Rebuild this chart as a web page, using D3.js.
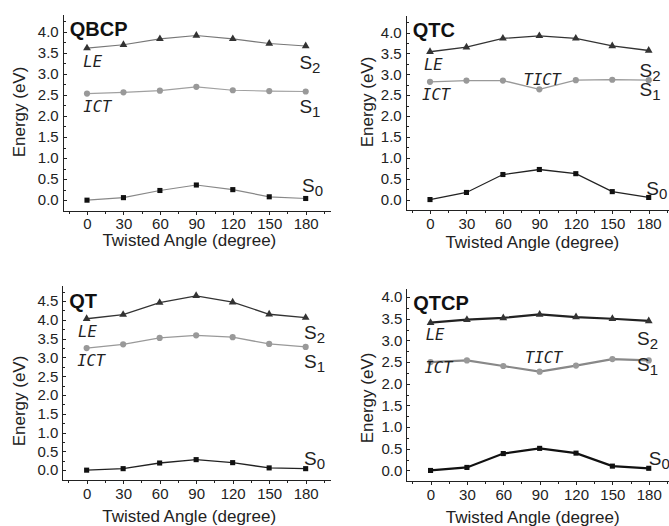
<!DOCTYPE html>
<head>
<meta charset="utf-8">
<style>
body { margin: 0; background: #fff; }
svg { display: block; font-family: "Liberation Sans", Arial, sans-serif; }
.axis path, .axis line { fill: none; stroke: #222; shape-rendering: crispEdges; }
.axis text { font-size: 15px; fill: #222; font-family: "Liberation Sans", Arial, sans-serif; }
.title { font-size: 17px; fill: #222; }
.name { font-size: 20px; font-weight: bold; fill: #111; }
.state { font-size: 19px; fill: #222; }
.char { font-size: 15.5px; font-style: italic; fill: #222; font-family: "DejaVu Sans Mono", monospace; }
</style>
<script src="https://cdn.jsdelivr.net/npm/d3@7"></script>
</head>
<body>
<script>
"use strict";
var W = 669, H = 526;

var angles = [0, 30, 60, 90, 120, 150, 180];
var angleTicks = [0, 30, 60, 90, 120, 150, 180];

var qbcpS0 = [0.00, 0.06, 0.23, 0.36, 0.25, 0.08, 0.04];
var qbcpS1 = [2.53, 2.56, 2.60, 2.69, 2.61, 2.59, 2.58];
var qbcpS2 = [3.61, 3.69, 3.83, 3.91, 3.83, 3.72, 3.66];

var qtcS0 = [0.00, 0.17, 0.60, 0.72, 0.62, 0.19, 0.05];
var qtcS1 = [2.82, 2.85, 2.85, 2.64, 2.86, 2.87, 2.86];
var qtcS2 = [3.54, 3.65, 3.86, 3.92, 3.86, 3.68, 3.57];

var qtS0 = [0.00, 0.04, 0.19, 0.28, 0.20, 0.06, 0.04];
var qtS1 = [3.25, 3.35, 3.52, 3.59, 3.54, 3.36, 3.28];
var qtS2 = [4.03, 4.14, 4.46, 4.64, 4.47, 4.15, 4.06];

var qtcpS0 = [0.00, 0.07, 0.39, 0.51, 0.40, 0.10, 0.05];
var qtcpS1 = [2.50, 2.54, 2.41, 2.28, 2.42, 2.57, 2.54];
var qtcpS2 = [3.41, 3.48, 3.52, 3.60, 3.54, 3.50, 3.45];

// annotation anchors in data units: [angle, energy] for S0, S1, S2
var qbcpStateAt = [[177, 0.20], [174.8, 2.06], [174.8, 3.11]];
var qtcStateAt  = [[178, 0.11], [172.5, 2.47], [172.5, 2.93]];
var qtStateAt   = [[178.6, 0.15], [178.6, 2.72], [178.6, 3.48]];
var qtcpStateAt = [[180, 0.13], [170.3, 2.29], [170.3, 2.90]];

var qbcpChar = [["LE", -3, 3.16], ["ICT", -3, 2.09]];
var qtcChar  = [["LE", -5, 3.11], ["ICT", -6.5, 2.38], ["TICT", 77, 2.75]];
var qtChar   = [["LE", -7, 3.55], ["ICT", -7.8, 2.77]];
var qtcpChar = [["LE", -4, 3.0], ["ICT", -5, 2.24], ["TICT", 78, 2.48]];

var panels = [
  {name: "QBCP", s: [qbcpS0, qbcpS1, qbcpS2], at: qbcpStateAt, chars: qbcpChar,
   left: 62.7, right: 330, top: 14, bottom: 210.7, ymin: -0.25, ymax: 4.42, ytop: 4.0,
   lineCol: ["#888", "#a0a0a0", "#777"], w: 1.2, titleX: 19, titleY: 112, xtitleY: 246},
  {name: "QTC", s: [qtcS0, qtcS1, qtcS2], at: qtcStateAt, chars: qtcChar,
   left: 405.7, right: 673, top: 15, bottom: 210, ymin: -0.25, ymax: 4.42, ytop: 4.0,
   lineCol: ["#222", "#999", "#333"], w: 1.3, titleX: 367, titleY: 102, xtitleY: 248},
  {name: "QT", s: [qtS0, qtS1, qtS2], at: qtStateAt, chars: qtChar,
   left: 62.3, right: 330, top: 285.7, bottom: 480.3, ymin: -0.27, ymax: 4.91, ytop: 4.5,
   lineCol: ["#222", "#999", "#333"], w: 1.3, titleX: 19, titleY: 401, xtitleY: 522},
  {name: "QTCP", s: [qtcpS0, qtcpS1, qtcpS2], at: qtcpStateAt, chars: qtcpChar,
   left: 406.3, right: 673, top: 288, bottom: 481.3, ymin: -0.25, ymax: 4.21, ytop: 4.0,
   lineCol: ["#111", "#888", "#222"], w: 2.2, titleX: 367, titleY: 398, xtitleY: 523}
];

var svg = d3.select("body").append("svg")
    .attr("width", W)
    .attr("height", H);

svg.append("rect").attr("width", W).attr("height", H).attr("fill", "#fff");

panels.forEach(function(p) {
  var x = d3.scaleLinear().domain([-20, 200]).range([p.left, p.right]);
  var y = d3.scaleLinear().domain([p.ymin, p.ymax]).range([p.bottom, p.top]);
  var g = svg.append("g");

  var yMajor = d3.range(0, p.ytop + 0.01, 0.5);
  var yMinor = d3.range(0.25, p.ymax, 0.5);
  var xMinor = d3.range(-15, 200, 30);

  // minor ticks
  g.append("g")
      .attr("class", "axis")
      .attr("transform", "translate(0," + p.bottom + ")")
      .call(d3.axisBottom(x).tickValues(xMinor).tickSize(3).tickSizeOuter(0).tickFormat(""));
  g.append("g")
      .attr("class", "axis")
      .attr("transform", "translate(" + p.left + ",0)")
      .call(d3.axisRight(y).tickValues(yMinor).tickSize(3).tickSizeOuter(0).tickFormat(""));

  // major axes
  g.append("g")
      .attr("class", "axis")
      .attr("transform", "translate(0," + p.bottom + ")")
      .call(d3.axisBottom(x).tickValues(angleTicks).tickSize(4).tickSizeOuter(0).tickPadding(4));

  var ya = g.append("g")
      .attr("class", "axis")
      .attr("transform", "translate(" + p.left + ",0)")
      .call(d3.axisRight(y).tickValues(yMajor).tickSize(4).tickSizeOuter(0).tickFormat(d3.format(".1f")));
  ya.selectAll("text").attr("x", -4).attr("text-anchor", "end");

  g.append("text")
      .attr("class", "title")
      .attr("transform", "translate(" + p.titleX + "," + p.titleY + ") rotate(-90)")
      .attr("text-anchor", "middle")
      .attr("dy", "0.35em")
      .text("Energy (eV)");

  g.append("text")
      .attr("class", "title")
      .attr("x", x(90) - 7)
      .attr("y", p.xtitleY)
      .attr("text-anchor", "middle")
      .text("Twisted Angle (degree)");

  g.append("text")
      .attr("class", "name")
      .attr("x", p.left + 7)
      .attr("y", p.top + 22)
      .text(p.name);

  var line = d3.line()
      .x(function(d, i) { return x(angles[i]); })
      .y(function(d) { return y(d); });

  var markCol = ["#111", "#999", "#333"];
  p.s.forEach(function(vals, k) {
    g.append("path")
        .datum(vals)
        .attr("fill", "none")
        .attr("stroke", p.lineCol[k])
        .attr("stroke-width", p.w)
        .attr("d", line);

    var sym = [d3.symbolSquare, d3.symbolCircle, d3.symbolTriangle][k];
    var size = [26, 30, 26][k];
    g.selectAll(null)
        .data(vals)
      .enter().append("path")
        .attr("transform", function(d, i) { return "translate(" + x(angles[i]) + "," + y(d) + ")"; })
        .attr("d", d3.symbol().type(sym).size(size))
        .attr("fill", markCol[k]);
  });

  p.at.forEach(function(a, k) {
    var t = g.append("text")
        .attr("class", "state")
        .attr("x", x(a[0]))
        .attr("y", y(a[1]));
    t.append("tspan").text("S");
    t.append("tspan")
        .attr("font-size", "15px")
        .attr("dy", 4)
        .text(String(k));
  });

  p.chars.forEach(function(c) {
    g.append("text")
        .attr("class", "char")
        .attr("x", x(c[1]))
        .attr("y", y(c[2]))
        .text(c[0]);
  });
});
</script>
</body>
